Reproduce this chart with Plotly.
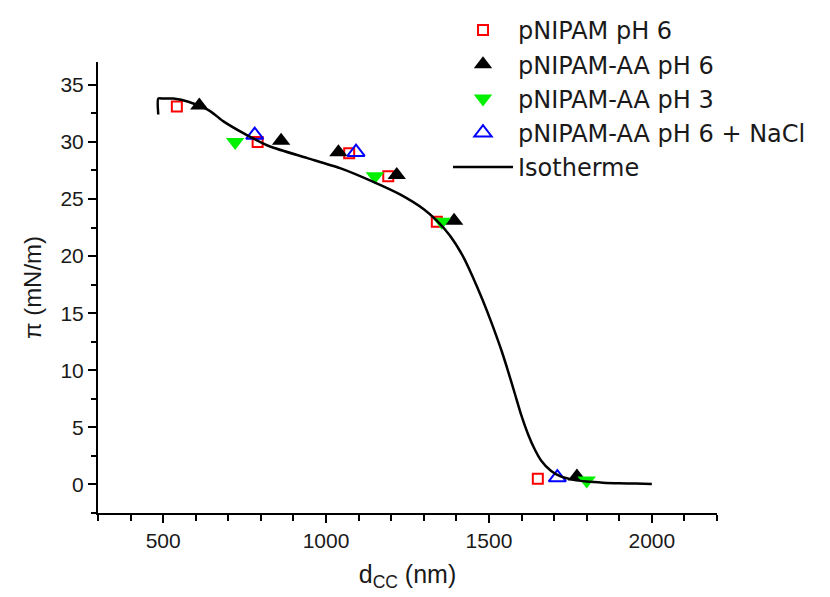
import plotly.graph_objects as go

# Data
sq_x = [542, 790, 1071, 1191, 1340, 1650]
sq_y = [33.1, 30.0, 29.0, 27.0, 23.0, 0.5]

blk_x = [611, 862, 1038, 1217, 1393, 1770]
blk_y = [33.2, 30.1, 29.1, 27.1, 23.1, 0.7]

grn_x = [721, 1150, 1355, 1800]
grn_y = [30.0, 27.0, 23.0, 0.35]

blu_x = [781, 1092, 1710]
blu_y = [30.6, 29.1, 0.6]

iso_x = [485, 485, 500, 531, 580, 644, 685, 757, 828, 941, 1043, 1145, 1227, 1300,
         1340, 1380, 1420, 1450, 1480, 1510, 1540, 1560, 1580, 1600, 1620, 1640,
         1660, 1690, 1720, 1760, 1800, 1850, 1900, 1950, 2000]
iso_y = [32.4, 33.8, 33.8, 33.8, 33.5, 32.7, 31.8, 30.6, 29.6, 28.6, 27.7, 26.5, 25.4, 24.1,
         23.1, 21.8, 20.0, 18.2, 16.2, 14.0, 11.6, 9.8, 7.9, 6.0, 4.4, 3.1,
         2.1, 1.2, 0.7, 0.4, 0.25, 0.15, 0.1, 0.08, 0.05]

font_main = "Liberation Sans, Arial, sans-serif"
font_leg = "DejaVu Sans, Verdana, sans-serif"
txt = "#1a1a1a"

W, H = 830, 597
ML, MB, MT, MR = 90, 92, 0, 10
plot_w, plot_h = 619, 451
paper_w, paper_h = W - ML - MR, H - MT - MB

fig = go.Figure()
fig.add_trace(go.Scatter(x=sq_x, y=sq_y, mode="markers", name="pNIPAM pH 6",
                         legendgroup="a",
                         marker=dict(symbol="square-open", size=10, color="#ff0000",
                                     line=dict(width=2, color="#ff0000"))))
fig.add_trace(go.Scatter(x=blk_x, y=blk_y, mode="markers", name="pNIPAM-AA pH 6",
                         legendgroup="b",
                         marker=dict(symbol="triangle-up", size=16, color="#000000")))
fig.add_trace(go.Scatter(x=grn_x, y=grn_y, mode="markers", name="pNIPAM-AA pH 3",
                         legendgroup="c",
                         marker=dict(symbol="triangle-down", size=16, color="#00f000")))
fig.add_trace(go.Scatter(x=blu_x, y=blu_y, mode="markers", name="pNIPAM-AA pH 6 + NaCl",
                         legendgroup="d",
                         marker=dict(symbol="triangle-up-open", size=15, color="#0000ff",
                                     line=dict(width=2, color="#0000ff"))))
fig.add_trace(go.Scatter(x=iso_x, y=iso_y, mode="lines", name="Isotherme",
                         legendgroup="e",
                         line=dict(color="#000000", width=2.5, shape="spline", smoothing=0.6)))

fig.update_layout(
    width=W, height=H,
    paper_bgcolor="white", plot_bgcolor="white",
    margin=dict(l=ML, r=MR, t=MT, b=MB),
    font=dict(family=font_main, size=21, color=txt),
    legend=dict(x=(440 - ML) / paper_w, y=1.0,
                xanchor="left", yanchor="top",
                bgcolor="rgba(0,0,0,0)", font=dict(family=font_leg, size=24, color=txt),
                tracegroupgap=0, itemwidth=60),
    showlegend=True,
)
fig.update_xaxes(domain=[0, plot_w / paper_w],
                 range=[300, 2200], tick0=0, dtick=500, ticks="outside", ticklen=8,
                 tickwidth=2, tickcolor="black", showline=True, linecolor="black",
                 linewidth=2, showgrid=False, zeroline=False,
                 minor=dict(dtick=100, tick0=0, ticks="outside", ticklen=6, tickwidth=2,
                            tickcolor="black"),
                 tickfont=dict(size=21),
                 title=dict(text="d<sub>CC</sub> (nm)", font=dict(size=25), standoff=14))
fig.update_yaxes(domain=[0, plot_h / paper_h],
                 range=[-2.5, 37], tick0=0, dtick=5, ticks="outside", ticklen=8,
                 tickwidth=2, tickcolor="black", showline=True, linecolor="black",
                 linewidth=2, showgrid=False, zeroline=False,
                 minor=dict(dtick=2.5, tick0=0, ticks="outside", ticklen=5, tickwidth=2,
                            tickcolor="black"),
                 tickfont=dict(size=21),
                 title=dict(text="π (mN/m)", font=dict(size=24), standoff=12))

fig.write_html("out.html")
